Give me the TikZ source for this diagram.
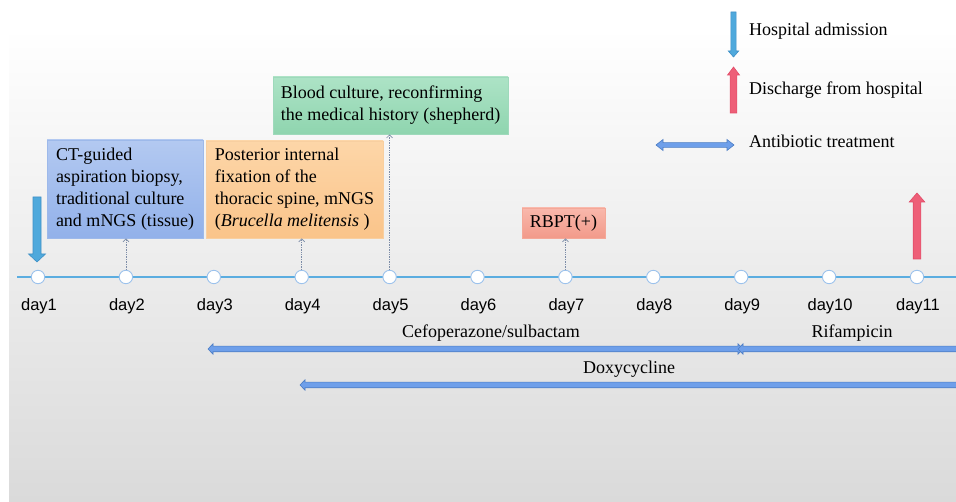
\documentclass[tikz,border=0pt]{standalone}
\usepackage{fontspec}
\setmainfont{Liberation Serif}
\newfontfamily\arialf{Liberation Sans}
\usetikzlibrary{arrows.meta}
\definecolor{bgbot}{HTML}{DADADA}
\definecolor{tline}{HTML}{5BADE0}
\definecolor{circb}{HTML}{9CC2EC}
\definecolor{connc}{HTML}{7D8DA8}
\definecolor{bluetop}{HTML}{B3C9F1}
\definecolor{bluebot}{HTML}{92B1EA}
\definecolor{blueb}{HTML}{9DB9EA}
\definecolor{orgtop}{HTML}{FDD6A8}
\definecolor{orgbot}{HTML}{FAC48A}
\definecolor{orgb}{HTML}{F8CFA0}
\definecolor{grntop}{HTML}{ADE3C6}
\definecolor{grnbot}{HTML}{8FD5AF}
\definecolor{grnb}{HTML}{9ED9BB}
\definecolor{redtop}{HTML}{F9B8AC}
\definecolor{redbot}{HTML}{F29A8A}
\definecolor{redb}{HTML}{F4A898}
\definecolor{admf}{HTML}{4FA9DC}
\definecolor{admb}{HTML}{3F90C6}
\definecolor{disf}{HTML}{EE5F78}
\definecolor{disb}{HTML}{E24C69}
\definecolor{abf}{HTML}{6E9FEA}
\definecolor{abb}{HTML}{4E7EC4}
% vertical block arrows: x, top y, bottom y, shaft half width, head half width, head length
\newcommand{\vdownarrow}[7]{\filldraw[#7] (#1-#4,#2) -- (#1+#4,#2) -- (#1+#4,#3-#6) -- (#1+#5,#3-#6) -- (#1,#3) -- (#1-#5,#3-#6) -- (#1-#4,#3-#6) -- cycle;}
\newcommand{\vuparrow}[7]{\filldraw[#7] (#1-#4,#3) -- (#1+#4,#3) -- (#1+#4,#2+#6) -- (#1+#5,#2+#6) -- (#1,#2) -- (#1-#5,#2+#6) -- (#1-#4,#2+#6) -- cycle;}
% horizontal: left tip x, right x, y, shaft half h, head half H, head length L
\newcommand{\hleftarrow}[6]{\filldraw[abx] (#1,#3) -- (#1+#6,#3-#5) -- (#1+#6,#3-#4) -- (#2,#3-#4) -- (#2,#3+#4) -- (#1+#6,#3+#4) -- (#1+#6,#3+#5) -- cycle;}
\newcommand{\hbotharrow}[6]{\filldraw[abx] (#1,#3) -- (#1+#6,#3-#5) -- (#1+#6,#3-#4) -- (#2-#6,#3-#4) -- (#2-#6,#3-#5) -- (#2,#3) -- (#2-#6,#3+#5) -- (#2-#6,#3+#4) -- (#1+#6,#3+#4) -- (#1+#6,#3+#5) -- cycle;}
\begin{document}
\begin{tikzpicture}[x=1pt,y=-1pt,
  dot/.style={circle,draw=circb,line width=0.9pt,fill=white,minimum size=13.4pt,inner sep=0pt},
  daylbl/.style={font=\arialf\fontsize{16.5}{18}\selectfont,inner sep=0pt},
  evbox/.style={rectangle,line width=0.8pt,align=left,inner sep=0pt,font=\fontsize{18}{22}\selectfont},
  conn/.style={connc,densely dotted,line width=0.7pt,-{Straight Barb[length=3pt,width=6pt]}},
  lbl/.style={font=\fontsize{18}{22}\selectfont,inner sep=0pt},
  abx/.style={fill=abf,draw=abb,line width=0.6pt},
  admx/.style={fill=admf,draw=admb,line width=0.6pt},
  disx/.style={fill=disf,draw=disb,line width=0.6pt}]
\useasboundingbox (0,0) rectangle (956,502);
\shade[top color=white,bottom color=bgbot] (9,28) rectangle (956,502);

% timeline
\coordinate (tlstart) at (17,277);
\coordinate (tlend) at (956,277);
\draw[tline,line width=2.4pt] (tlstart) -- (tlend);
\foreach \i in {1,...,11}{
  \node[dot] (d\i) at ({38+87.9*(\i-1)},277) {};
  \node[daylbl] (l\i) at ({39+87.9*(\i-1)},306) {day\i};
}

% event boxes
\node[evbox,top color=bluetop,bottom color=bluebot,draw=blueb,minimum width=156pt,minimum height=98pt] (b2) at (125,189)
  {CT-guided\\aspiration biopsy,\\traditional culture\\and mNGS (tissue)};
\node[evbox,top color=orgtop,bottom color=orgbot,draw=orgb,minimum width=177pt,minimum height=97pt] (b4) at (294.5,189.5)
  {Posterior internal\\fixation of the\\thoracic spine, mNGS\\(\textit{Brucella melitensis} )};
\node[evbox,top color=grntop,bottom color=grnbot,draw=grnb,minimum width=235pt,minimum height=57pt] (b5) at (390.5,105.5)
  {Blood culture, reconfirming\\the medical history (shepherd)};
\node[evbox,top color=redtop,bottom color=redbot,draw=redb,minimum width=83pt,minimum height=30pt,align=center] (b7) at (563.5,223)
  {RBPT(+)};

% connectors
\draw[conn] (d2.north) -- (b2.south -| d2.north);
\draw[conn] (d4.north) -- (b4.south -| d4.north);
\draw[conn] (d5.north) -- (b5.south -| d5.north);
\draw[conn] (d7.north) -- (b7.south -| d7.north);

% admission / discharge arrows on timeline
\vdownarrow{37}{197}{262}{4}{8.5}{8}{admx}
\vuparrow{917}{193}{259}{3.8}{7.8}{9}{disx}

% legend
\vdownarrow{733.5}{12}{57}{2.6}{5.2}{6}{admx}
\node[lbl,anchor=west] (lg1) at (749,31) {Hospital admission};
\vuparrow{733.5}{67}{113}{3.4}{6}{8}{disx}
\node[lbl,anchor=west] (lg2) at (749,90) {Discharge from hospital};
\hbotharrow{656}{734}{145}{2.4}{5.5}{7}
\node[lbl,anchor=west] (lg3) at (749,141) {Antibiotic treatment};

% antibiotic courses
\hbotharrow{208}{743}{349}{2.8}{5.2}{5}
\node[lbl] (cef) at (491,333) {Cefoperazone/sulbactam};
\hleftarrow{738}{960}{349}{2.8}{5.2}{5}
\node[lbl] (rif) at (852,333) {Rifampicin};
\hleftarrow{300}{960}{385}{2.8}{5.2}{5}
\node[lbl] (dox) at (629,369) {Doxycycline};
\end{tikzpicture}
\end{document}
